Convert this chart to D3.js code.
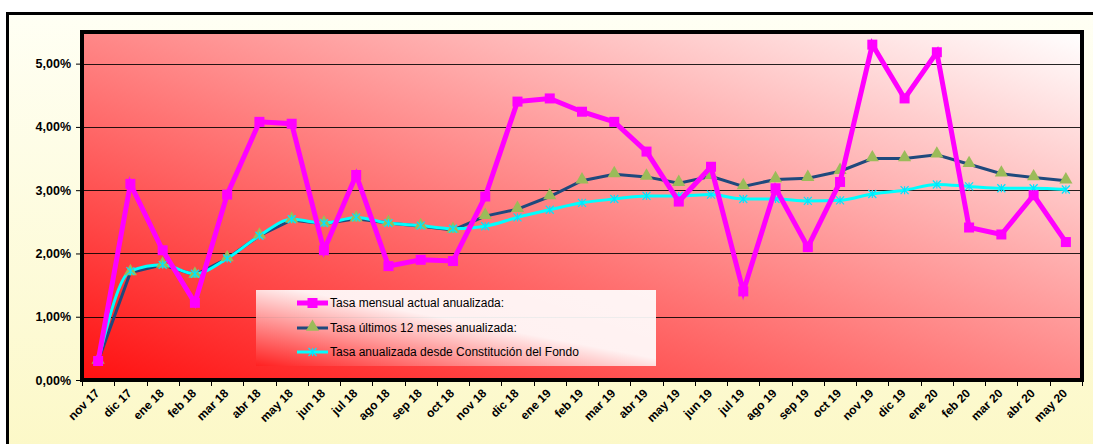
<!DOCTYPE html>
<html><head><meta charset="utf-8">
<script src="https://cdn.jsdelivr.net/npm/d3@7"></script>
<style>body{margin:0;background:#fff;}svg{display:block;font-family:"Liberation Sans",Arial,sans-serif;}</style>
</head><body><svg id="c" width="1093" height="444"></svg>
<script>
const categories = ["nov 17","dic 17","ene 18","feb 18","mar 18","abr 18","may 18","jun 18","jul 18","ago 18","sep 18","oct 18","nov 18","dic 18","ene 19","feb 19","mar 19","abr 19","may 19","jun 19","jul 19","ago 19","sep 19","oct 19","nov 19","dic 19","ene 20","feb 20","mar 20","abr 20","may 20"];
const mensual = [0.30,3.10,2.05,1.22,2.93,4.08,4.05,2.05,3.24,1.80,1.90,1.88,2.90,4.40,4.45,4.24,4.08,3.61,2.82,3.37,1.40,3.03,2.10,3.13,5.30,4.45,5.18,2.41,2.30,2.92,2.18];
const ultimos12 = [0.30,1.70,1.82,1.66,1.92,2.28,2.53,2.47,2.55,2.48,2.43,2.37,2.59,2.70,2.90,3.15,3.25,3.21,3.11,3.22,3.06,3.17,3.19,3.30,3.50,3.50,3.56,3.41,3.26,3.20,3.15];
const desdeConst = [0.30,1.72,1.82,1.68,1.92,2.28,2.54,2.48,2.57,2.48,2.44,2.39,2.43,2.57,2.69,2.80,2.86,2.91,2.91,2.93,2.86,2.86,2.83,2.84,2.94,3.00,3.09,3.06,3.03,3.03,3.01];
const yTicks = [0,1,2,3,4,5];
const seriesNames = ["Tasa mensual actual anualizada:","Tasa últimos 12 meses anualizada:","Tasa anualizada desde Constitución del Fondo"];

const svg = d3.select("#c");
const defs = svg.append("defs");
const g1 = defs.append("linearGradient").attr("id","outerG").attr("x1",0).attr("y1",0).attr("x2",0).attr("y2",1);
g1.append("stop").attr("offset","0%").attr("stop-color","#FFFFF4");
g1.append("stop").attr("offset","100%").attr("stop-color","#FCF8C6");
const g2 = defs.append("linearGradient").attr("id","plotG").attr("x1",0).attr("y1",1).attr("x2",1).attr("y2",0);
g2.append("stop").attr("offset","0%").attr("stop-color","#FF1010");
g2.append("stop").attr("offset","100%").attr("stop-color","#FFFFFF");
const g3 = defs.append("linearGradient").attr("id","legG").attr("x1",0).attr("y1",1).attr("x2",1).attr("y2",0);
g3.append("stop").attr("offset","0%").attr("stop-color","#FF2020");
g3.append("stop").attr("offset","55%").attr("stop-color","#FFFFFF");
g3.append("stop").attr("offset","100%").attr("stop-color","#FFFFFF");

// outer frame
svg.append("rect").attr("x",7.5).attr("y",13.5).attr("width",1100).attr("height",450)
  .attr("fill","url(#outerG)").attr("stroke","#000").attr("stroke-width",3);

const L=82, R=1082, T=32, B=380;
const x = d3.scaleBand().domain(categories).range([L,R]);
const y = d3.scaleLinear().domain([0,5.5]).range([B,T]);

svg.append("rect").attr("x",L).attr("y",T).attr("width",R-L).attr("height",B-T).attr("fill","url(#plotG)");

// gridlines
svg.append("g").selectAll("line").data(yTicks.slice(1)).join("line")
  .attr("x1",L).attr("x2",R).attr("y1",d=>Math.round(y(d))+0.5).attr("y2",d=>Math.round(y(d))+0.5)
  .attr("stroke","#000").attr("stroke-width",1).attr("opacity",0.85);

// legend box
const lg = svg.append("g");
lg.append("rect").attr("x",256).attr("y",290).attr("width",400).attr("height",76).attr("fill","url(#legG)").attr("opacity",0.92);

// plot border
svg.append("rect").attr("x",L).attr("y",T).attr("width",R-L).attr("height",B-T)
  .attr("fill","none").attr("stroke","#000").attr("stroke-width",4);

// axes
const yAxis = d3.axisLeft(y).tickValues(yTicks).tickFormat(d=>d3.format(".2f")(d).replace(".",",")+"%").tickSize(4).tickPadding(5);
const ya = svg.append("g").attr("transform",`translate(${L-2},0)`).call(yAxis);
ya.select(".domain").remove();
ya.selectAll("text").attr("font-size",12.5).attr("font-weight","bold").attr("fill","#000").attr("font-family","Liberation Sans, Arial");
const xAxis = d3.axisBottom(x).tickSize(0).tickPadding(0);
const xa = svg.append("g").attr("transform",`translate(0,${B+2})`).call(xAxis);
xa.select(".domain").remove();
xa.selectAll("text").attr("font-size",12).attr("font-weight","bold").attr("fill","#000")
  .attr("font-family","Liberation Sans, Arial")
  .attr("text-anchor","end").attr("dy",0)
  .attr("transform","translate(2,12) rotate(-45)");
// x tick marks at category boundaries
svg.append("g").selectAll("line").data(categories.concat(["__end"])).join("line")
  .attr("x1",(d,i)=>Math.round(L+i*x.step())+0.5).attr("x2",(d,i)=>Math.round(L+i*x.step())+0.5)
  .attr("y1",B+2).attr("y2",B+6).attr("stroke","#000");

const cx = d=>x(d)+x.bandwidth()/2;

// series
const lineStraight = d3.line().x((d,i)=>cx(categories[i])).y(d=>y(d));
const lineSmooth = d3.line().x((d,i)=>cx(categories[i])).y(d=>y(d)).curve(d3.curveMonotoneX);

// navy
svg.append("path").datum(ultimos12).attr("d",lineStraight).attr("fill","none").attr("stroke","#1F497D").attr("stroke-width",3);
// cyan
svg.append("path").datum(desdeConst).attr("d",lineSmooth).attr("fill","none").attr("stroke","#00FFFF").attr("stroke-width",3);
// triangles
const tri = d3.symbol().type(d3.symbolTriangle).size(75);
svg.append("g").selectAll("path").data(ultimos12).join("path")
  .attr("d",tri).attr("transform",(d,i)=>`translate(${cx(categories[i])},${y(d)-1})`).attr("fill","#9BBB59");
// cyan asterisks
const ast = svg.append("g");
desdeConst.forEach((d,i)=>{
  const px=cx(categories[i]), py=y(d);
  ast.append("path").attr("d",`M${px-4},${py-4}L${px+4},${py+4}M${px-4},${py+4}L${px+4},${py-4}M${px},${py-4}L${px},${py+4}`)
    .attr("stroke","#00E5FF").attr("stroke-width",1.2);
});
// pink
svg.append("path").datum(mensual).attr("d",lineStraight).attr("fill","none").attr("stroke","#FF00FF").attr("stroke-width",5).attr("stroke-linejoin","miter");
svg.append("g").selectAll("rect").data(mensual).join("rect")
  .attr("x",(d,i)=>cx(categories[i])-5).attr("y",d=>y(d)-5).attr("width",10).attr("height",10).attr("fill","#FF00FF");

// legend entries
const ly=[303,328,352];
const lx1=297, lx2=328;
lg.append("line").attr("x1",lx1).attr("x2",lx2).attr("y1",ly[0]).attr("y2",ly[0]).attr("stroke","#FF00FF").attr("stroke-width",5);
lg.append("rect").attr("x",(lx1+lx2)/2-5).attr("y",ly[0]-5).attr("width",10).attr("height",10).attr("fill","#FF00FF");
lg.append("line").attr("x1",lx1).attr("x2",lx2).attr("y1",ly[1]).attr("y2",ly[1]).attr("stroke","#1F497D").attr("stroke-width",3);
lg.append("path").attr("d",tri).attr("transform",`translate(${(lx1+lx2)/2},${ly[1]-1})`).attr("fill","#9BBB59");
lg.append("line").attr("x1",lx1).attr("x2",lx2).attr("y1",ly[2]).attr("y2",ly[2]).attr("stroke","#00FFFF").attr("stroke-width",3);
{const px=(lx1+lx2)/2, py=ly[2];
lg.append("path").attr("d",`M${px-4},${py-4}L${px+4},${py+4}M${px-4},${py+4}L${px+4},${py-4}M${px},${py-4}L${px},${py+4}`).attr("stroke","#00E5FF").attr("stroke-width",1.2);}
lg.selectAll("text.lt").data(seriesNames).join("text").attr("class","lt")
  .attr("x",330).attr("y",(d,i)=>ly[i]).attr("dy","0.35em").attr("font-size",12).attr("fill","#000").text(d=>d);
</script></body></html>
